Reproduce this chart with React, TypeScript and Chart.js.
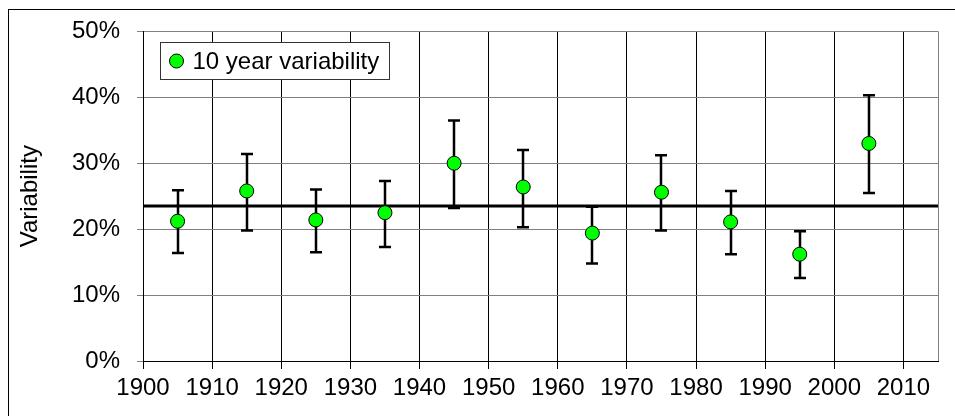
import React, { useEffect, useRef } from "react";
import { Chart, registerables } from "chart.js";

Chart.register(...registerables);

const YEARS = [1905, 1915, 1925, 1935, 1945, 1955, 1965, 1975, 1985, 1995, 2005];
const VALUES = [21.2, 25.8, 21.4, 22.5, 30.0, 26.4, 19.4, 25.6, 21.1, 16.2, 33.0];
const UPPER = [25.9, 31.4, 26.0, 27.3, 36.5, 32.0, 23.4, 31.2, 25.8, 19.7, 40.3];
const LOWER = [16.4, 19.8, 16.5, 17.3, 23.2, 20.3, 14.8, 19.8, 16.2, 12.6, 25.5];
const MEAN = 23.5;
const X_MIN = 1900;
const X_MAX = 2015;
const SERIES_LABEL = "10 year variability";
const Y_TITLE = "Variability";

const FONT = "'Liberation Sans', Arial, sans-serif";

const framePlugin = {
  id: "frame",
  afterDraw(chart: any) {
    const ctx = chart.ctx;
    const a = chart.chartArea;
    ctx.save();
    ctx.strokeStyle = "#808080";
    ctx.lineWidth = 1;
    ctx.beginPath();
    ctx.moveTo(Math.round(a.right) + 0.5, a.top);
    ctx.lineTo(Math.round(a.right) + 0.5, a.bottom);
    ctx.stroke();
    ctx.strokeStyle = "#000";
    ctx.strokeRect(8.5, 9.5, 3000, 3000);
    ctx.restore();
  },
};

const errorBarPlugin = {
  id: "errorBars",
  afterDatasetDraw(chart: any, args: any) {
    if (args.index !== 1) return;
    const ctx = chart.ctx;
    const xs = chart.scales.x;
    const ys = chart.scales.y;
    ctx.save();
    ctx.strokeStyle = "#000";
    ctx.lineWidth = 2.5;
    YEARS.forEach((yr, i) => {
      const px = Math.round(xs.getPixelForValue(yr));
      const top = ys.getPixelForValue(UPPER[i]);
      const bot = ys.getPixelForValue(LOWER[i]);
      ctx.beginPath();
      ctx.moveTo(px, top);
      ctx.lineTo(px, bot);
      ctx.moveTo(px - 6, top);
      ctx.lineTo(px + 6, top);
      ctx.moveTo(px - 6, bot);
      ctx.lineTo(px + 6, bot);
      ctx.stroke();
    });
    ctx.restore();
  },
};

const legendPlugin = {
  id: "boxLegend",
  afterDatasetsDraw(chart: any) {
    const ctx = chart.ctx;
    const a = chart.chartArea;
    const ds = chart.data.datasets[0];
    const left = Math.round(a.left) + 17.5;
    const top = Math.round(a.top) + 11.5;
    const w = 229;
    const h = 37;
    ctx.save();
    ctx.fillStyle = "#fff";
    ctx.fillRect(left, top, w, h);
    ctx.strokeStyle = "#333";
    ctx.lineWidth = 1;
    ctx.strokeRect(left, top, w, h);
    const cy = top + h / 2;
    ctx.beginPath();
    ctx.arc(left + 16, cy, 7, 0, Math.PI * 2);
    ctx.fillStyle = ds.backgroundColor;
    ctx.fill();
    ctx.strokeStyle = "#000";
    ctx.stroke();
    ctx.fillStyle = "#000";
    ctx.font = `24px ${FONT}`;
    ctx.textBaseline = "middle";
    ctx.textAlign = "left";
    ctx.fillText(ds.label, left + 32, cy + 1);
    ctx.restore();
  },
};

export default function App() {
  const ref = useRef<HTMLCanvasElement | null>(null);
  useEffect(() => {
    if (!ref.current) return;
    const chart = new Chart(ref.current, {
      type: "scatter",
      data: {
        datasets: [
          {
            label: SERIES_LABEL,
            data: YEARS.map((x, i) => ({ x, y: VALUES[i] })),
            backgroundColor: "#00FF00",
            borderColor: "#000",
            borderWidth: 1,
            pointRadius: 7,
            order: 0,
          } as any,
          {
            type: "line",
            label: "Mean",
            data: [
              { x: X_MIN, y: MEAN },
              { x: X_MAX, y: MEAN },
            ],
            borderColor: "#000",
            borderWidth: 3,
            pointRadius: 0,
            fill: false,
            order: 1,
          } as any,
        ],
      },
      options: {
        animation: false,
        responsive: false,
        maintainAspectRatio: false,
        layout: { padding: { left: 0, top: 31, right: 17, bottom: 0 } },
        plugins: {
          legend: { display: false },
          tooltip: { enabled: false },
        },
        scales: {
          x: {
            type: "linear",
            min: X_MIN,
            max: X_MAX,
            afterFit: (s: any) => {
              s.height = 55;
            },
            ticks: {
              stepSize: 10,
              includeBounds: false,
              color: "#000",
              font: { family: FONT, size: 24 },
              padding: 5,
              maxRotation: 0,
              autoSkip: false,
              callback: (v: any) => String(v),
            },
            grid: {
              color: "#000",
              lineWidth: 1,
              tickLength: 8,
              tickColor: "#000",
            },
            border: { color: "#000", width: 1 },
          },
          y: {
            min: 0,
            max: 50,
            afterFit: (s: any) => {
              s.width = 143;
            },
            ticks: {
              stepSize: 10,
              color: "#000",
              font: { family: FONT, size: 24 },
              padding: 17,
              callback: (v: any) => v + "%",
            },
            grid: {
              color: "#808080",
              lineWidth: 1,
              tickLength: 6,
              tickColor: "#808080",
            },
            border: { color: "#000", width: 1 },
            title: {
              display: true,
              text: Y_TITLE,
              color: "#000",
              font: { family: FONT, size: 24 },
              padding: { top: 16, bottom: 0 },
            },
          },
        },
      },
      plugins: [framePlugin, errorBarPlugin, legendPlugin],
    });
    return () => chart.destroy();
  }, []);
  return (
    <div style={{ position: "fixed", left: 0, top: 0, width: 955, height: 416 }}>
      <canvas ref={ref} width={955} height={416} style={{ width: 955, height: 416, display: "block" }} />
    </div>
  );
}
